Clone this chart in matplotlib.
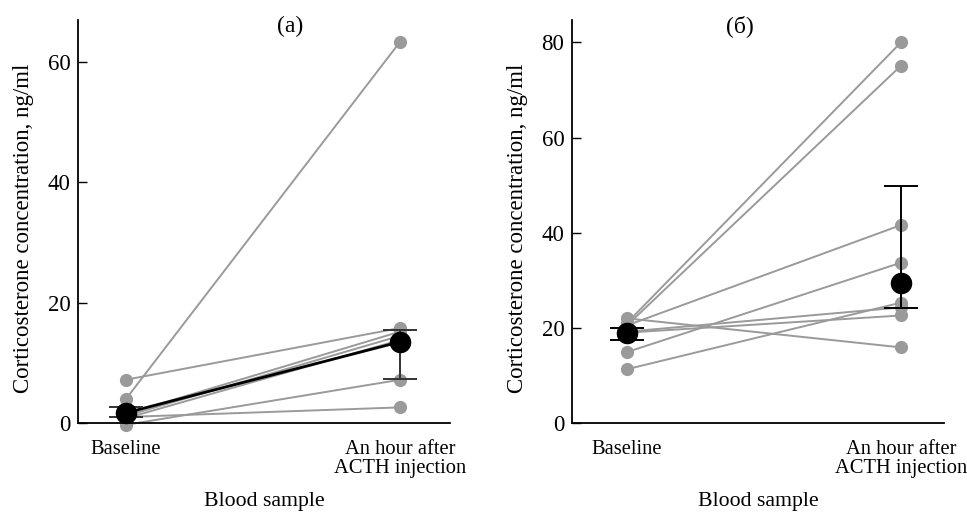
import matplotlib
matplotlib.use("Agg")
import matplotlib.pyplot as plt

plt.rcParams["font.family"] = ["Liberation Serif", "DejaVu Serif"]

# x categories
POSITIONS = [0, 1]
XLABELS = ["Baseline", "An hour after\nACTH injection"]

# panel (a): individual animals (baseline, after ACTH)
a_base = [7.2, 4.0, 1.5, 1.2, 0.8, 1.0, -0.3]
a_after = [15.8, 63.4, 15.2, 14.5, 13.8, 2.6, 7.2]
a_mean = [1.7, 13.5]
a_err_lo = [1.0, 7.3]
a_err_hi = [2.6, 15.5]

# panel (б)
b_base = [21.0, 20.5, 22.0, 20.5, 14.9, 11.3, 19.2, 19.0]
b_after = [80.0, 75.1, 15.9, 41.6, 33.7, 25.3, 24.3, 22.6]
b_mean = [18.9, 29.4]
b_err_lo = [17.4, 24.2]
b_err_hi = [20.0, 49.8]

GRAY = "#9a9a9a"

fig = plt.figure(figsize=(9.67, 5.14), dpi=100)
ax_a = fig.add_axes([0.0807, 0.177, 0.3847, 0.784])
ax_b = fig.add_axes([0.5915, 0.177, 0.3847, 0.784])


def draw(ax, base, after, mean, lo, hi, ylim, yticks, xlim, title, tx, ecol, mean_line):
    for b, a in zip(base, after):
        ax.plot(POSITIONS, [b, a], color=GRAY, lw=1.4, marker="o", ms=9.5,
                mec="none", mfc=GRAY, clip_on=False, zorder=2)
    if mean_line:
        ax.plot(POSITIONS, mean, color="black", lw=2, zorder=3)
    yerr = [[m - l for m, l in zip(mean, lo)], [h - m for m, h in zip(mean, hi)]]
    ax.errorbar(POSITIONS, mean, yerr=yerr, fmt="none", ecolor=ecol, elinewidth=1.4,
                capsize=12, capthick=1.4, zorder=4)
    ax.plot(POSITIONS, mean, ls="none", marker="o", ms=14.5, color="black",
            clip_on=False, zorder=5)
    ax.set_xlim(*xlim)
    ax.set_ylim(*ylim)
    ax.set_yticks(yticks)
    ax.set_xticks(POSITIONS)
    ax.set_xticklabels(XLABELS, fontsize=14.8, linespacing=1.05)
    ax.tick_params(axis="y", direction="in", length=6.5, width=1, labelsize=16.5, pad=5.5)
    ax.tick_params(axis="x", length=0, pad=12)
    for s in ("top", "right"):
        ax.spines[s].set_visible(False)
    for s in ("left", "bottom"):
        ax.spines[s].set_linewidth(1.3)
    ax.set_ylabel("Corticosterone concentration, ng/ml", fontsize=16.5, labelpad=10)
    ax.yaxis.label.set_y(0.484)
    ax.set_xlabel("Blood sample", fontsize=15.7, labelpad=10)
    ax.text(tx, 0.985, title, transform=ax.transAxes, ha="center", va="center",
            fontsize=17)


draw(ax_a, a_base, a_after, a_mean, a_err_lo, a_err_hi, (0, 67), [0, 20, 40, 60],
     (-0.175, 1.182), "(a)", 0.57, "#333333", True)
draw(ax_b, b_base, b_after, b_mean, b_err_lo, b_err_hi, (0, 84.7), [0, 20, 40, 60, 80],
     (-0.20, 1.157), "(б)", 0.45, "black", False)

fig.savefig("out.png", dpi=100)
